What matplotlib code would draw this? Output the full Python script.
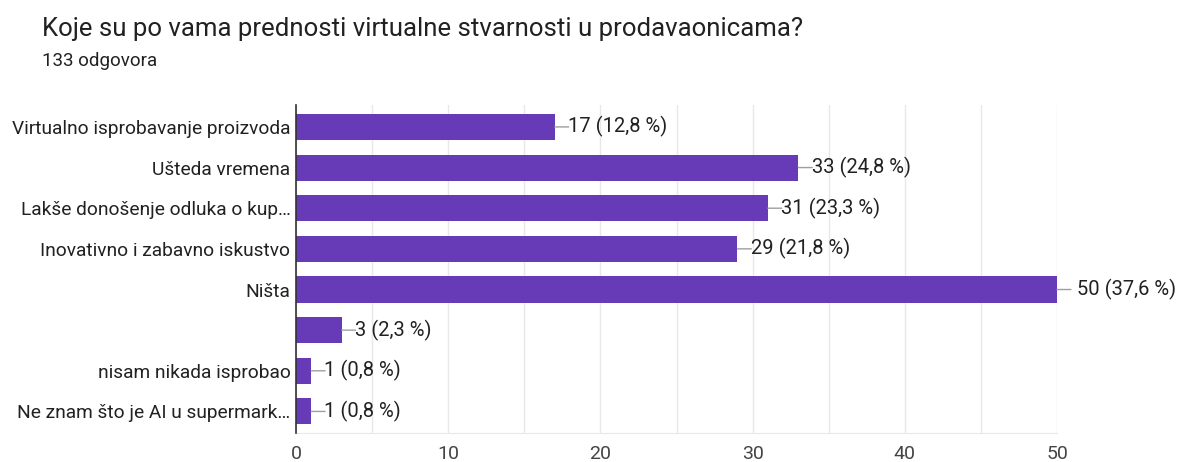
import matplotlib.pyplot as plt
from matplotlib.ticker import MultipleLocator

plt.rcParams['font.family'] = ['Roboto', 'DejaVu Sans']

title = "Koje su po vama prednosti virtualne stvarnosti u prodavaonicama?"
subtitle = "133 odgovora"
answers = [
    "Virtualno isprobavanje proizvoda",
    "Ušteda vremena",
    "Lakše donošenje odluka o kup…",
    "Inovativno i zabavno iskustvo",
    "Ništa",
    "",
    "nisam nikada isprobao",
    "Ne znam što je AI u supermark…",
]
counts = [17, 33, 31, 29, 50, 3, 1, 1]
percents = ["12,8", "24,8", "23,3", "21,8", "37,6", "2,3", "0,8", "0,8"]

bar_color = "#673ab7"
text_color = "#212121"
tick_color = "#444444"
grid_color = "#e8e8e8"

fig = plt.figure(figsize=(11.77, 4.62), dpi=100)
ax = fig.add_axes([0.2515, 0.0628, 0.6466, 0.71])

y = list(range(len(answers)))
ax.barh(y, counts, height=0.64, color=bar_color, zorder=3)

# value labels with short leader lines
for yi, c, p in zip(y, counts, percents):
    ax.annotate("", xy=(c, yi), xytext=(10, 0), textcoords="offset points",
                xycoords="data", annotation_clip=False,
                arrowprops=dict(arrowstyle="-", color="#9e9e9e", lw=1,
                                shrinkA=0, shrinkB=0))
    offs = 9.5 if c < 50 else 14
    ax.annotate(f"{c} ({p} %)", xy=(c, yi), xytext=(offs, 0),
                textcoords="offset points", va="center", ha="left",
                fontsize=14.5, color=text_color, annotation_clip=False)

ax.set_xlim(0, 50)
ax.set_ylim(7.53, -0.54)
ax.set_yticks(y)
ax.set_yticklabels(answers, fontsize=13.8, color=text_color)
ax.xaxis.set_major_locator(MultipleLocator(10))
ax.xaxis.set_minor_locator(MultipleLocator(5))
ax.tick_params(axis="x", which="both", length=0, labelsize=14,
               labelcolor=tick_color, pad=9)
ax.tick_params(axis="y", length=0, pad=4)
ax.grid(axis="x", which="both", color=grid_color, lw=1, zorder=0)

for side in ["top", "right"]:
    ax.spines[side].set_visible(False)
ax.spines["bottom"].set_color(grid_color)
ax.spines["left"].set_color("#333333")
ax.spines["left"].set_linewidth(1.2)
ax.spines["left"].set_zorder(4)

fig.text(42 / 1177, 1 - 29 / 462, title, fontsize=18.5, color=text_color,
         va="center", ha="left")
fig.text(42 / 1177, 1 - 61 / 462, subtitle, fontsize=13.5, color=text_color,
         va="center", ha="left")

fig.savefig("out.png", dpi=100, facecolor="white")
